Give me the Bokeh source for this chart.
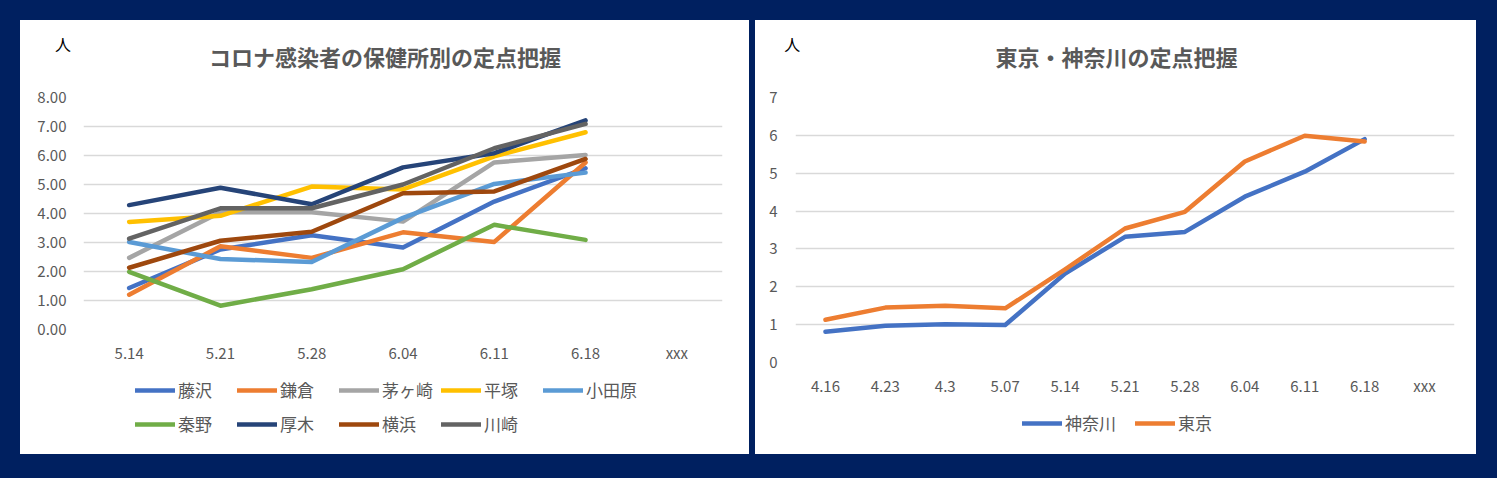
from bokeh.plotting import figure
from bokeh.models import (ColumnDataSource, FactorRange, Range1d, Legend, LegendItem,
                          Label, NumeralTickFormatter, SingleIntervalTicker, Spacer)
from bokeh.layouts import row, column
from bokeh.embed import file_html
from bokeh.resources import INLINE

# ---------------- data: left chart ----------------
left_dates = ["5.14", "5.21", "5.28", "6.04", "6.11", "6.18", "xxx"]
fujisawa = [1.43, 2.76, 3.25, 2.83, 4.41, 5.56]
kamakura = [1.20, 2.87, 2.47, 3.35, 3.02, 5.76]
chigasaki = [2.47, 4.04, 4.04, 3.72, 5.76, 6.02]
hiratsuka = [3.71, 3.92, 4.93, 4.83, 5.97, 6.80]
odawara = [3.02, 2.43, 2.33, 3.85, 5.02, 5.41]
hadano = [1.99, 0.82, 1.39, 2.08, 3.61, 3.09]
atsugi = [4.29, 4.89, 4.32, 5.59, 6.08, 7.21]
yokohama = [2.13, 3.06, 3.37, 4.70, 4.76, 5.88]
kawasaki = [3.13, 4.18, 4.18, 5.00, 6.25, 7.09]
left_names = ["藤沢", "鎌倉", "茅ヶ崎", "平塚", "小田原", "秦野", "厚木", "横浜", "川崎"]
left_colors = ["#4472C4", "#ED7D31", "#A5A5A5", "#FFC000", "#5B9BD5",
               "#70AD47", "#264478", "#9E480E", "#636363"]
left_series = [fujisawa, kamakura, chigasaki, hiratsuka, odawara,
               hadano, atsugi, yokohama, kawasaki]
left_title = "コロナ感染者の保健所別の定点把握"

# ---------------- data: right chart ----------------
right_dates = ["4.16", "4.23", "4.3", "5.07", "5.14", "5.21", "5.28", "6.04", "6.11", "6.18", "xxx"]
kanagawa = [0.81, 0.97, 1.01, 0.99, 2.35, 3.32, 3.45, 4.38, 5.04, 5.90]
tokyo = [1.13, 1.45, 1.50, 1.43, 2.46, 3.54, 3.98, 5.31, 5.99, 5.84]
right_names = ["神奈川", "東京"]
right_colors = ["#4472C4", "#ED7D31"]
right_series = [kanagawa, tokyo]
right_title = "東京・神奈川の定点把握"
unit = "人"

JP = "Noto Sans CJK JP"
GRAY = "#595959"
NAVY = "#002060"
WHITE = {"background-color": "white"}
LW = 4.5


def base(w, h, **kw):
    p = figure(width=w, height=h, output_backend="svg", toolbar_location=None,
               outline_line_color=None, background_fill_color="white",
               border_fill_color="white", frame_align=False, **kw)
    p.styles = WHITE
    return p


def strip(w, h, xr, yr):
    s = base(w, h, x_range=xr, y_range=yr, min_border=0,
             x_axis_location=None, y_axis_location=None)
    s.grid.visible = False
    return s


def chart(w, h, cats, ymax, borders, ystandoff, fmt):
    l, r, t, b = borders
    p = base(w, h, x_range=FactorRange(factors=cats), y_range=Range1d(0, ymax),
             min_border_left=l, min_border_right=r, min_border_top=t, min_border_bottom=b)
    p.xgrid.grid_line_color = None
    p.ygrid.grid_line_color = "#D9D9D9"
    p.ygrid.grid_line_width = 1.5
    for ax in (p.xaxis[0], p.yaxis[0]):
        ax.axis_line_color = None
        ax.major_tick_line_color = None
        ax.minor_tick_line_color = None
        ax.major_tick_out = 0
        ax.major_tick_in = 0
        ax.major_label_text_color = GRAY
        ax.major_label_text_font = JP
        ax.major_label_text_font_size = "15px"
    p.yaxis[0].major_label_standoff = ystandoff
    p.xaxis[0].major_label_standoff = 12
    p.yaxis[0].ticker = SingleIntervalTicker(interval=1)
    p.yaxis[0].formatter = NumeralTickFormatter(format=fmt)
    return p


def legend(items, loc, lw):
    return Legend(items=items, orientation="horizontal", location=loc,
                  glyph_width=40, glyph_height=20, label_height=20, label_width=lw,
                  label_standoff=3, spacing=3, padding=0, margin=0,
                  border_line_color=None, background_fill_alpha=0,
                  inactive_fill_alpha=0,
                  label_text_font=JP, label_text_font_size="17px",
                  label_text_color=GRAY, label_text_baseline="middle")


def header(w, text, tx, ux):
    s = strip(w, 65, Range1d(0, w), Range1d(0, 65))
    s.add_layout(Label(x=ux, y=42, text=unit, text_font=JP, text_font_size="16px",
                       text_color="#000000", text_align="center", text_baseline="middle"))
    s.add_layout(Label(x=tx, y=30, text=text, text_font=JP, text_font_size="22px",
                       text_font_style="bold", text_color=GRAY,
                       text_align="center", text_baseline="middle"))
    return s


def plot_lines(p, sources, colors):
    return [p.line("x", "y", source=src, line_color=c, line_width=LW,
                   line_join="round", line_cap="round")
            for src, c in zip(sources, colors)]


def key_strip(w, h, cats, sources, names, colors):
    # same series drawn outside this strip's visible range; only the legend keys show
    s = strip(w, h, FactorRange(factors=cats), Range1d(-3, -2))
    rs = plot_lines(s, sources, colors)
    return s, [LegendItem(label=n, renderers=[r]) for n, r in zip(names, rs)]


# ---------------- left panel ----------------
src1 = [ColumnDataSource(dict(x=left_dates[:len(v)], y=v)) for v in left_series]
top1 = header(729, left_title, 364.5, 42.5)
p1 = chart(729, 289, left_dates, 8, (63, 27, 12, 45), 13, "0.00")
plot_lines(p1, src1, left_colors)
leg1, items1 = key_strip(729, 80, left_dates, src1, left_names, left_colors)
leg1.add_layout(legend(items1[:5], (115, 52), 56))
leg1.add_layout(legend(items1[5:], (115, 18), 56))

# ---------------- right panel ----------------
src2 = [ColumnDataSource(dict(x=right_dates[:len(v)], y=v)) for v in right_series]
top2 = header(721, right_title, 361, 36.7)
p2 = chart(721, 317, right_dates, 7, (40, 22, 12, 40), 14, "0")
plot_lines(p2, src2, right_colors)
leg2, items2 = key_strip(721, 52, right_dates, src2, right_names, right_colors)
leg2.add_layout(legend(items2, (267, 19), 67))

left_panel = column(top1, p1, leg1, styles=WHITE)
right_panel = column(top2, p2, leg2, styles=WHITE)
layout = row(Spacer(width=20), column(Spacer(height=20), left_panel),
             Spacer(width=6), column(Spacer(height=20), right_panel))

html = file_html(layout, INLINE, title="定点把握")
html = html.replace("</head>", "<style>html,body{background-color:%s;margin:0;}</style></head>" % NAVY, 1)
open("out.html", "w").write(html)
